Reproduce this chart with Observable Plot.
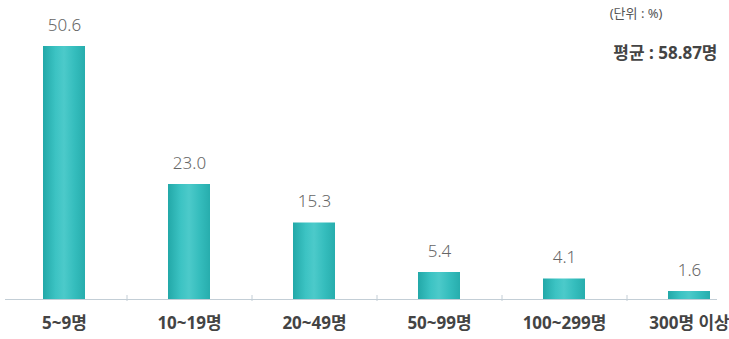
<!DOCTYPE html>
<html>
<head>
<meta charset="utf-8">
<script src="https://cdn.jsdelivr.net/npm/d3@7"></script>
<script src="https://cdn.jsdelivr.net/npm/@observablehq/plot@0.6"></script>
<style>
  html, body { margin: 0; padding: 0; background: #fff; }
  #chart { width: 729px; height: 339px; overflow: hidden; }
</style>
</head>
<body>
<div id="chart"></div>
<script>
const categories = ["5~9명", "10~19명", "20~49명", "50~99명", "100~299명", "300명 이상"];
const values = [50.6, 23.0, 15.3, 5.4, 4.1, 1.6];
const unitLabel = "(단위 : %)";
const averageLabel = "평균 : 58.87명";

const data = categories.map((c, i) => ({category: c, value: values[i]}));

const font = "'Noto Sans', 'Noto Sans CJK KR', sans-serif";

const chart = Plot.plot({
  width: 729,
  height: 339,
  marginTop: 0,
  marginBottom: 40,
  marginLeft: 0,
  marginRight: 0,
  style: {fontFamily: font, background: "#fff", overflow: "visible"},
  x: {domain: categories, range: [2, 752], paddingInner: 0.66, paddingOuter: 0.33, label: null},
  y: {domain: [0, 59.8], axis: null},
  marks: [
    Plot.barY(data, {x: "category", y: "value", fill: "url(#barGrad)"}),
    Plot.ruleY([0], {stroke: "#c3ced6", strokeWidth: 1.2, insetLeft: 5, insetRight: 12}),
    Plot.ruleX(categories.slice(0, 5), {stroke: "#c3ced6", dx: 62.5, insetTop: 295, insetBottom: -2}),
    Plot.text(data, {x: "category", y: "value", text: d => d.value.toFixed(1), dy: -21,
      fontSize: 17, fontWeight: 300, fill: "#666"}),
    Plot.axisX({tickSize: 0, tickPadding: 17, fontSize: 17, fontWeight: "bold", color: "#444", label: null}),
    Plot.text([unitLabel], {frameAnchor: "top-right", dx: -67, dy: 8, fontSize: 13, fill: "#555", textAnchor: "end"}),
    Plot.text([averageLabel], {frameAnchor: "top-right", dx: -12, dy: 46, fontSize: 17, fontWeight: "bold", fill: "#444", textAnchor: "end"})
  ]
});

const svg = d3.select(chart);
const defs = svg.insert("defs", ":first-child");
const grad = defs.append("linearGradient").attr("id", "barGrad").attr("x1", "0").attr("x2", "1").attr("y1", "0").attr("y2", "0");
[["0%", "#22a8a8"], ["30%", "#3cc3c3"], ["50%", "#4ccaca"], ["75%", "#35bdbd"], ["100%", "#27adad"]]
  .forEach(([o, c]) => grad.append("stop").attr("offset", o).attr("stop-color", c));

document.getElementById("chart").append(chart);
</script>
</body>
</html>
